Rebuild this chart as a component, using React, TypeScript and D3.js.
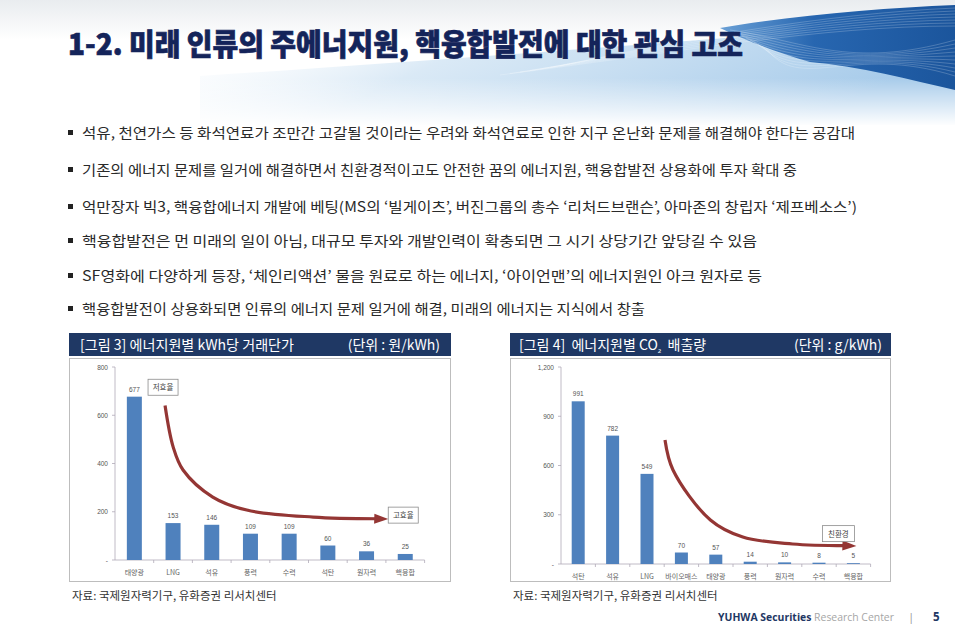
import React from "react";
import * as d3 from "d3";

const titleText = "1-2. 미래 인류의 주에너지원, 핵융합발전에 대한 관심 고조";
const bullets = [
  "석유, 천연가스 등 화석연료가 조만간 고갈될 것이라는 우려와 화석연료로 인한 지구 온난화 문제를 해결해야 한다는 공감대",
  "기존의 에너지 문제를 일거에 해결하면서 친환경적이고도 안전한 꿈의 에너지원, 핵융합발전 상용화에 투자 확대 중",
  "억만장자 빅3, 핵융합에너지 개발에 베팅(MS의 ‘빌게이츠’, 버진그룹의 총수 ‘리처드브랜슨’, 아마존의 창립자 ‘제프베소스’)",
  "핵융합발전은 먼 미래의 일이 아님, 대규모 투자와 개발인력이 확충되면 그 시기 상당기간 앞당길 수 있음",
  "SF영화에 다양하게 등장, ‘체인리액션’ 물을 원료로 하는 에너지, ‘아이언맨’의 에너지원인 아크 원자로 등",
  "핵융합발전이 상용화되면 인류의 에너지 문제 일거에 해결, 미래의 에너지는 지식에서 창출",
];
const bulletEnds = [855, 797, 857, 757, 762, 645];

// Chart 3: price per kWh (원/kWh)
const priceCategories = ["태양광", "LNG", "석유", "풍력", "수력", "석탄", "원자력", "핵융합"];
const priceValues = [677, 153, 146, 109, 109, 60, 36, 25];
const priceTicks = [0, 200, 400, 600, 800];

// Chart 4: CO2 emissions (g/kWh)
const co2Categories = ["석탄", "석유", "LNG", "바이오매스", "태양광", "풍력", "원자력", "수력", "핵융합"];
const co2Values = [991, 782, 549, 70, 57, 14, 10, 8, 5];
const co2Ticks = [0, 300, 600, 900, 1200];

const KR = "'Noto Sans CJK KR', 'Noto Sans', sans-serif";
const BAR = "#4f81bd";
const ARROW = "#943634";

type Box = { cat: string; dx: number; v: number; text: string; w: number; h: number };
type ChartProps = {
  cats: string[];
  vals: number[];
  ticks: number[];
  max: number;
  x0: number;
  x1: number;
  yTop: number;
  yBot: number;
  barW: number;
  fmt: (v: number) => string;
  arrowPts: [string, number, number][];
  boxA: Box | null;
  boxB: Box;
};

function BarChart(p: ChartProps) {
  const x = d3.scaleBand<string>().domain(p.cats).range([p.x0, p.x1]).paddingInner(0).paddingOuter(0);
  const y = d3.scaleLinear().domain([0, p.max]).range([p.yBot, p.yTop]);
  const cx = (c: string) => (x(c) as number) + x.bandwidth() / 2;
  const pts: [number, number][] = p.arrowPts.map(([c, dx, v]) => [cx(c) + dx, y(v)]);
  const last = pts[pts.length - 1];
  const prev = pts[pts.length - 2];
  const ang = Math.atan2(last[1] - prev[1], last[0] - prev[0]);
  const head = (len: number, wid: number) => {
    const bx = last[0] - len * Math.cos(ang);
    const by = last[1] - len * Math.sin(ang);
    const nx = -Math.sin(ang) * wid;
    const ny = Math.cos(ang) * wid;
    return `M${last[0] + 3 * Math.cos(ang)},${last[1] + 3 * Math.sin(ang)} L${bx + nx},${by + ny} L${bx - nx},${by - ny} Z`;
  };
  const lineEnd: [number, number] = [last[0] - 8 * Math.cos(ang), last[1] - 8 * Math.sin(ang)];
  const line2 = d3.line().curve(d3.curveCatmullRom.alpha(0.5))([...pts.slice(0, -1), lineEnd]) || "";
  const box = (b: Box) => {
    const bxC = cx(b.cat) + b.dx;
    const byC = y(b.v);
    return (
      <g>
        <rect x={bxC - b.w / 2} y={byC - b.h / 2} width={b.w} height={b.h} fill="#fff" stroke="#8c8c8c" strokeWidth={0.8} />
        <text x={bxC} y={byC + 3} textAnchor="middle" fontSize={7.5} fill="#444" fontFamily={KR}>{b.text}</text>
      </g>
    );
  };
  return (
    <g>
      <line x1={p.x0} x2={p.x0} y1={p.yTop} y2={p.yBot} stroke="#b0a9b8" strokeWidth={0.8} />
      {p.ticks.map((t) => (
        <g key={t}>
          <line x1={p.x0 - 3} x2={p.x0} y1={y(t)} y2={y(t)} stroke="#b0a9b8" strokeWidth={0.8} />
          <text x={p.x0 - 7} y={y(t) + 2.5} textAnchor="end" fontSize={6.5} fill="#555" fontFamily="'Liberation Sans', Arial, sans-serif">
            {p.fmt(t)}
          </text>
        </g>
      ))}
      <line x1={p.x0} x2={p.x1} y1={p.yBot} y2={p.yBot} stroke="#b0a9b8" strokeWidth={0.8} />
      {p.cats.map((c) => (
        <line key={"t" + c} x1={(x(c) as number) + x.bandwidth()} x2={(x(c) as number) + x.bandwidth()} y1={p.yBot} y2={p.yBot + 3} stroke="#b0a9b8" strokeWidth={0.8} />
      ))}
      {p.cats.map((c, i) => (
        <g key={c}>
          <rect x={cx(c) - p.barW / 2} y={y(p.vals[i])} width={p.barW} height={p.yBot - y(p.vals[i])} fill={BAR} />
          <text x={cx(c)} y={y(p.vals[i]) - 5} textAnchor="middle" fontSize={6.5} fill="#555" fontFamily="'Liberation Sans', Arial, sans-serif">
            {p.vals[i]}
          </text>
          <text x={cx(c)} y={p.yBot + 15} textAnchor="middle" fontSize={7} fill="#666" fontFamily={KR}>
            {c}
          </text>
        </g>
      ))}
      <path d={line2} fill="none" stroke={ARROW} strokeWidth={3.2} strokeLinecap="butt" />
      <path d={head(11, 5)} fill={ARROW} />
      {p.boxA && box(p.boxA)}
      {box(p.boxB)}
    </g>
  );
}

export default function App() {
  const W = 960;
  const H = 625;
  const ys = [133, 170, 207, 241, 276, 309];
  return (
    <svg width={W} height={H} style={{ position: "absolute", left: 0, top: 0, display: "block" }}>
      <defs>
        <linearGradient id="topfade" x1="0" y1="0" x2="0" y2="1">
          <stop offset="0" stopColor="#e9ecef" />
          <stop offset="1" stopColor="#ffffff" />
        </linearGradient>
        <linearGradient id="lightblue" x1="0" y1="0" x2="1" y2="0.3">
          <stop offset="0" stopColor="#ffffff" stopOpacity={0} />
          <stop offset="0.4" stopColor="#d6e7f5" stopOpacity={0.9} />
          <stop offset="1" stopColor="#a7cbea" />
        </linearGradient>
        <linearGradient id="lbv" x1="0" y1="0" x2="0" y2="1">
          <stop offset="0" stopColor="#ffffff" stopOpacity={0} />
          <stop offset="1" stopColor="#ffffff" stopOpacity={1} />
        </linearGradient>
        <linearGradient id="darkblue" x1="0" y1="0" x2="1" y2="0">
          <stop offset="0" stopColor="#6aa0d6" />
          <stop offset="0.4" stopColor="#2766b0" />
          <stop offset="1" stopColor="#1b559c" />
        </linearGradient>
      </defs>
      <rect x={0} y={0} width={W} height={H} fill="#fff" />
      <rect x={0} y={0} width={W} height={40} fill="url(#topfade)" />
      <path d="M200,76 C420,62 700,40 955,20 L955,125 L200,125 Z" fill="url(#lightblue)" />
      <rect x={200} y={78} width={760} height={48} fill="url(#lbv)" />
      <path d="M720,28 C790,16 880,8 955,5 L955,90 C910,80 860,66 810,62 C775,52 745,40 720,28 Z" fill="url(#darkblue)" />
      {[0, 1, 2, 3, 4, 5, 6, 7, 8, 9].map((i) => (
        <path key={i} d={`M${730 + i * 4},${30 + i * 2} C${800},${40 + i * 6} ${850},${70 - i * 3} ${955},${40 + i * 4}`} fill="none" stroke="#ffffff" strokeOpacity={0.35} strokeWidth={0.6} />
      ))}
      {[0, 1, 2, 3, 4, 5, 6].map((i) => (
        <path key={"w" + i} d={`M${560 - i * 10},${66 + i * 1.5} C${680},${40 + i * 2} ${820},${14 + i * 2} ${955},${8 + i * 3}`} fill="none" stroke="#ffffff" strokeOpacity={0.35} strokeWidth={0.6} />
      ))}
      <rect x={955} y={0} width={5} height={130} fill="#fff" />

      <text x={68} y={55} fontFamily={KR} fontWeight={900} fontSize={30} fill="#14245a" stroke="#14245a" strokeWidth={0.7} textLength={675} lengthAdjust="spacingAndGlyphs">
        {titleText}
      </text>

      {bullets.map((b, i) => (
        <g key={i}>
          <rect x={68} y={ys[i] - 3} width={5} height={5} fill="#222" />
          <text x={82} y={ys[i] + 5} fontFamily={KR} fontSize={14} fill="#2a2a2a" textLength={bulletEnds[i] - 82} lengthAdjust="spacingAndGlyphs">
            {b}
          </text>
        </g>
      ))}

      <rect x={69} y={333} width={382} height={23} fill="#1f3864" />
      <text x={80} y={349.5} fontFamily={KR} fontSize={14} fill="#fff" textLength={214} lengthAdjust="spacingAndGlyphs">[그림 3] 에너지원별 kWh당 거래단가</text>
      <text x={440} y={349.5} textAnchor="end" fontFamily={KR} fontSize={14} fill="#fff">(단위 : 원/kWh)</text>
      <rect x={510} y={333} width={381} height={23} fill="#1f3864" />
      <text x={519} y={349.5} fontFamily={KR} fontSize={14} fill="#fff" xmlSpace="preserve">
        [그림 4]  에너지원별 CO<tspan fontSize={10} dy={2}>₂</tspan><tspan dy={-2}>  배출량</tspan>
      </text>
      <text x={882} y={349.5} textAnchor="end" fontFamily={KR} fontSize={14} fill="#fff">(단위 : g/kWh)</text>

      <rect x={69.5} y={358.5} width={381} height={223} fill="#fff" stroke="#bdbdbd" strokeWidth={1} />
      <rect x={510.5} y={358.5} width={380} height={223} fill="#fff" stroke="#bdbdbd" strokeWidth={1} />

      <BarChart
        cats={priceCategories}
        vals={priceValues}
        ticks={priceTicks}
        max={800}
        x0={115}
        x1={424.6}
        yTop={367}
        yBot={560}
        barW={15}
        fmt={(v) => (v === 0 ? "-" : d3.format(",")(v))}
        arrowPts={[
          ["LNG", -8, 640],
          ["LNG", 0, 470],
          ["LNG", 10, 373],
          ["석유", 1, 261],
          ["석유", 35, 207],
          ["수력", 24, 178],
          ["핵융합", -20, 170],
        ]}
        boxA={{ cat: "LNG", dx: -10, v: 716, text: "저효율", w: 30, h: 16 }}
        boxB={{ cat: "핵융합", dx: -2, v: 186, text: "고효율", w: 30, h: 16 }}
      />
      <BarChart
        cats={co2Categories}
        vals={co2Values}
        ticks={co2Ticks}
        max={1200}
        x0={561}
        x1={870.6}
        yTop={367}
        yBot={564}
        barW={13}
        fmt={(v) => (v === 0 ? "-" : d3.format(",")(v))}
        arrowPts={[
          ["LNG", 18, 755],
          ["LNG", 26, 573],
          ["바이오매스", 29, 268],
          ["태양광", 27, 164],
          ["원자력", 8, 122],
          ["핵융합", 0, 110],
        ]}
        boxA={null}
        boxB={{ cat: "핵융합", dx: -15, v: 185, text: "친환경", w: 32, h: 16 }}
      />

      <text x={72} y={600} fontFamily={KR} fontSize={11.5} fill="#333">자료: 국제원자력기구, 유화증권 리서치센터</text>
      <text x={513} y={600} fontFamily={KR} fontSize={11.5} fill="#333">자료: 국제원자력기구, 유화증권 리서치센터</text>

      <text x={718} y={621} fontFamily="'Open Sans', Lato, sans-serif" fontSize={11} textLength={176} lengthAdjust="spacingAndGlyphs">
        <tspan fill="#1f3864" fontWeight={700}>YUHWA Securities</tspan>
        <tspan fill="#a6a6a6"> Research Center</tspan>
      </text>
      <text x={908} y={621} fontFamily="'Open Sans', sans-serif" fontSize={11.5} fill="#999">|</text>
      <text x={933} y={621} fontFamily="'Open Sans', sans-serif" fontSize={11.5} fontWeight={700} fill="#1f3864">5</text>
    </svg>
  );
}
